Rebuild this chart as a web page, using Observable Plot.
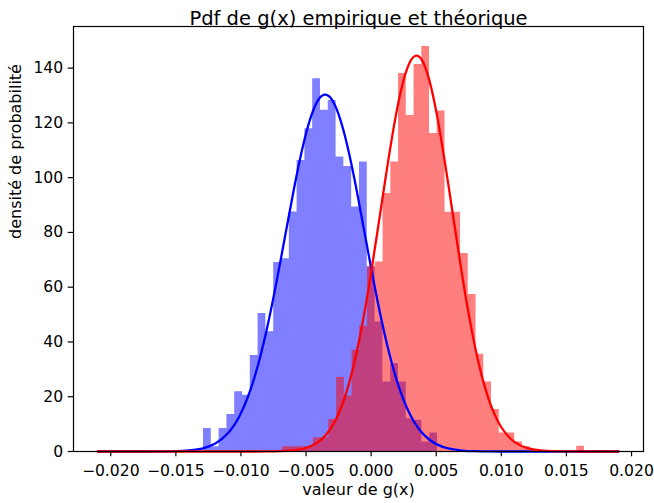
<!DOCTYPE html>
<html>
<head>
<meta charset="utf-8">
<script src="https://cdn.jsdelivr.net/npm/d3@7"></script>
<script src="https://cdn.jsdelivr.net/npm/@observablehq/plot@0.6"></script>
<style>
  html, body { margin: 0; padding: 0; background: white; }
  #chart { width: 654px; height: 503px; }
</style>
</head>
<body>
<div id="chart"></div>
<script>
// ---- Data ----
const title = "Pdf de g(x) empirique et théorique";
const xLabel = "valeur de g(x)";
const yLabel = "densité de probabilité";

const xTicks = [-0.020, -0.015, -0.010, -0.005, 0.000, 0.005, 0.010, 0.015, 0.020];
const yTicks = [0, 20, 40, 60, 80, 100, 120, 140];

// Empirical histogram (blue), density per bin
const blueBinStart = -0.012875;
const blueBinWidth = 0.000599;
const blueDensity = [8.4, 1.7, 8.4, 13.5, 21.8, 20.5, 35.1, 50.4, 43.7, 69.0,
  70.4, 87.5, 106.3, 117.9, 136.1, 124.6, 128.2, 107.5, 104.1, 89.3,
  105.7, 67.4, 47.3, 25.4, 32.1, 25.4, 12.0, 11.4, 3.5, 6.8];

// Empirical histogram (red), density per bin
const redBinStart = -0.006818;
const redBinWidth = 0.000595;
const redDensity = [1.7, 1.7, 1.7, 1.7, 5.0, 5.0, 11.7, 27.0, 20.3, 37.0,
  45.7, 67.5, 69.2, 94.2, 105.7, 138.0, 122.7, 141.3, 147.9, 116.1,
  124.3, 87.4, 87.4, 72.3, 57.3, 35.5, 25.4, 15.3, 6.8, 6.8,
  3.5, 1.7, 0, 0, 0, 0, 0, 0, 1.9];

// Theoretical pdf curves, read at these x positions
const curveX = [-0.021, -0.020, -0.019, -0.018, -0.017, -0.016, -0.015, -0.014, -0.013, -0.012,
  -0.011, -0.010, -0.009, -0.008, -0.007, -0.006, -0.005, -0.004, -0.003, -0.002,
  -0.001, 0.000, 0.001, 0.002, 0.003, 0.004, 0.005, 0.006, 0.007, 0.008,
  0.009, 0.010, 0.011, 0.012, 0.013, 0.014, 0.015, 0.016, 0.017, 0.018, 0.019];
const blueCurve = [0, 0, 0, 0.002, 0.008, 0.033, 0.117, 0.377, 1.09, 2.84,
  6.65, 13.98, 26.4, 44.9, 68.6, 94.1, 116.1, 128.8, 128.4, 115.0,
  92.6, 67.0, 43.6, 25.5, 13.4, 6.34, 2.69, 1.03, 0.352, 0.109,
  0.030, 0.0075, 0.0017, 0, 0, 0, 0, 0, 0, 0, 0];
const redCurve = [0, 0, 0, 0, 0, 0, 0, 0, 0, 0,
  0, 0.001, 0.005, 0.025, 0.107, 0.395, 1.28, 3.67, 9.17, 20.1,
  38.7, 65.3, 96.5, 125.2, 142.4, 142.1, 124.2, 95.3, 64.1, 37.8,
  19.5, 8.86, 3.52, 1.23, 0.376, 0.101, 0.024, 0.005, 0.001, 0, 0];

// ---- Tables built from the arrays ----
function stepTable(start, width, dens) {
  const rows = dens.map((d, i) => ({x: start + i * width, y: d}));
  rows.push({x: start + dens.length * width, y: 0});
  return rows;
}
const blueHist = stepTable(blueBinStart, blueBinWidth, blueDensity);
const redHist = stepTable(redBinStart, redBinWidth, redDensity);
const blueLine = curveX.map((x, i) => ({x, y: blueCurve[i]}));
const redLine = curveX.map((x, i) => ({x, y: redCurve[i]}));

const font = "DejaVu Sans";
const chart = Plot.plot({
  width: 654,
  height: 503,
  marginLeft: 73,
  marginRight: 11,
  marginTop: 26,
  marginBottom: 52,
  x: {domain: [-0.02286, 0.02092]},
  y: {domain: [0, 155.2]},
  style: {fontFamily: font, fontSize: "15.6px", background: "white", color: "black"},
  marks: [
    Plot.areaY(blueHist, {x: "x", y: "y", curve: "step-after", fill: "blue", fillOpacity: 0.5}),
    Plot.areaY(redHist, {x: "x", y: "y", curve: "step-after", fill: "red", fillOpacity: 0.5}),
    Plot.line(blueLine, {x: "x", y: "y", curve: "natural", stroke: "blue", strokeWidth: 2.3}),
    Plot.line(redLine, {x: "x", y: "y", curve: "natural", stroke: "red", strokeWidth: 2.3}),
    Plot.frame({stroke: "black", strokeWidth: 1.2}),
    Plot.axisX(xTicks, {tickSize: 5.3, tickPadding: 8.5, tickFormat: d3.format(".3f"),
      fontSize: 15.6, strokeWidth: 1.2, label: null}),
    Plot.axisY(yTicks, {tickSize: 5.3, tickPadding: 5, fontSize: 15.6, strokeWidth: 1.2, label: null}),
    Plot.text([title], {frameAnchor: "top", dy: -15.5, fontSize: 19.5, fill: "black"}),
    Plot.text([xLabel], {frameAnchor: "bottom", dy: 43, fontSize: 16, fill: "black"}),
    Plot.text([yLabel], {frameAnchor: "left", dx: -58, rotate: -90, fontSize: 16, fill: "black"})
  ]
});
document.getElementById("chart").appendChild(chart);
</script>
</body>
</html>
